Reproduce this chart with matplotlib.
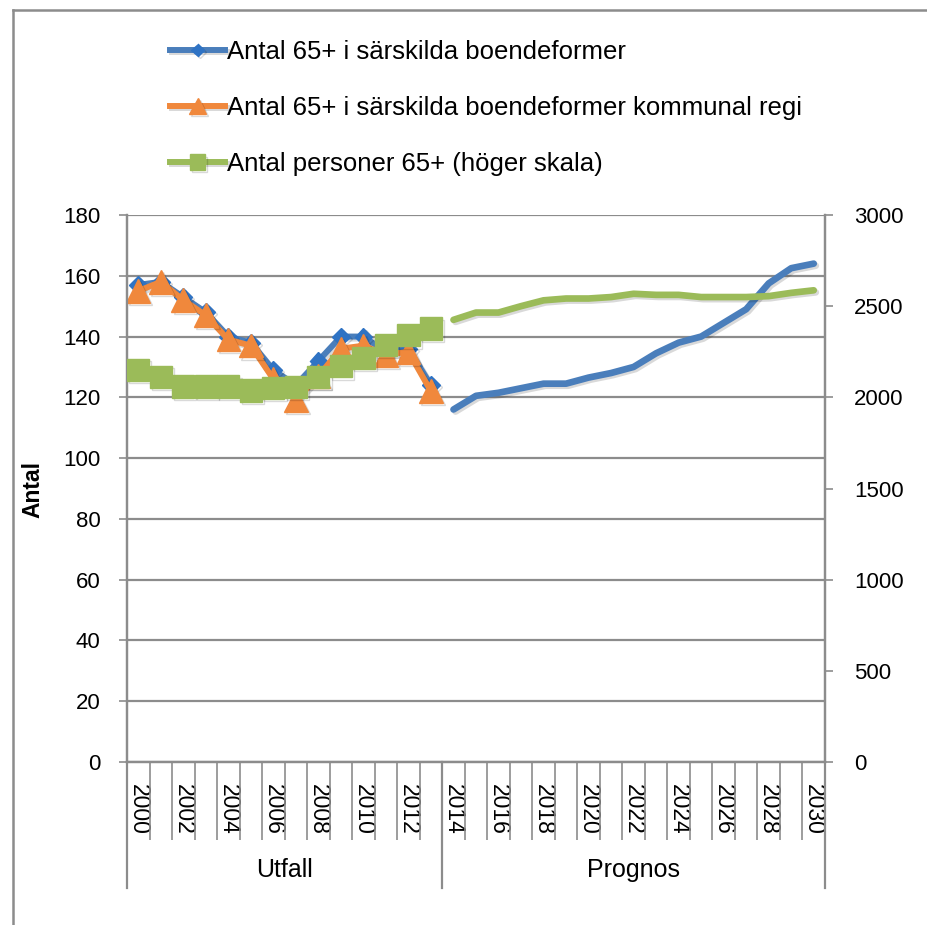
import numpy as np
import matplotlib.pyplot as plt
import matplotlib.patheffects as pe
from matplotlib.lines import Line2D

plt.rcParams['font.family'] = ['Liberation Sans', 'DejaVu Sans']

# Data
years = list(range(2000, 2031))
n_utfall = 14  # 2000-2013 outcome, 2014-2030 forecast

boende_utfall = [157, 158, 153, 148, 140, 138, 129, 124, 132, 140, 140, 135, 136, 124]
kommunal_utfall = [155, 158, 152, 147, 139, 137, 126, 119, 127, 136, 137, 134, 135, 122]
personer_utfall = [2150, 2112, 2059, 2059, 2059, 2037, 2050, 2055, 2113, 2170, 2215, 2287, 2340, 2377]

boende_prognos = [116, 120.5, 121.5, 123, 124.5, 124.5, 126.5, 128, 130, 134.5, 138, 140,
                  144.5, 149, 157.5, 162.5, 164]
personer_prognos = [2425, 2465, 2465, 2500, 2532, 2542, 2542, 2550, 2568, 2562, 2562, 2550,
                    2550, 2550, 2555, 2573, 2587]

labels = ['Antal 65+ i särskilda boendeformer',
          'Antal 65+ i särskilda boendeformer kommunal regi',
          'Antal personer 65+ (höger skala)']

blue = '#4A7EBB'
blue_mk = '#2F73C4'
orange = '#F0883C'
green = '#9BBB59'
grey = '#8C8C8C'

x_utfall = np.arange(n_utfall)
x_prognos = np.arange(n_utfall, len(years))

fig = plt.figure(figsize=(9.28, 9.25), dpi=100)
W, H = 928, 925
ax = fig.add_axes([127 / W, 1 - 762 / H, 698 / W, 547 / H])
ax2 = ax.twinx()

shadow = [pe.SimpleLineShadow(offset=(1.5, -1.5), shadow_color='black', alpha=0.15), pe.Normal()]

h1, = ax.plot(x_utfall, boende_utfall, color=blue, lw=4.3, marker='D', ms=9,
              mfc=blue_mk, mec=blue_mk, path_effects=shadow, zorder=3)
ax.plot(x_prognos, boende_prognos, color=blue, lw=4.8, solid_capstyle='round',
        path_effects=shadow, zorder=3)
h2, = ax.plot(x_utfall, kommunal_utfall, color=orange, lw=4.3, marker='^', ms=17,
              mfc=orange, mec=orange, path_effects=shadow, zorder=4)
h3, = ax2.plot(x_utfall, personer_utfall, color=green, lw=4.3, marker='s', ms=16,
               mfc=green, mec=green, path_effects=shadow, zorder=3)
ax2.plot(x_prognos, personer_prognos, color=green, lw=4.8, solid_capstyle='round',
         path_effects=shadow, zorder=3)

# axes ranges
ax.set_xlim(-0.5, len(years) - 0.5)
ax.set_ylim(0, 180)
ax2.set_ylim(0, 3000)
ax.set_yticks(range(0, 181, 20))
ax2.set_yticks(range(0, 3001, 500))
ax.grid(axis='y', color=grey, lw=1.6)
ax.set_axisbelow(True)

for a in (ax, ax2):
    for s in a.spines.values():
        s.set_color(grey)
        s.set_linewidth(1.6)
    a.spines['top'].set_visible(False)

ax.tick_params(axis='y', length=6, width=1.2, color=grey, pad=13, labelsize=16)
ax2.tick_params(axis='y', length=6, width=1.2, color=grey, pad=15, labelsize=16)

# category axis: year labels every second year, ticks between categories
ax.set_xticks(np.arange(0, len(years), 2))
ax.set_xticklabels([str(y) for y in years[::2]], rotation=270, fontsize=16.5)
ax.tick_params(axis='x', which='major', length=0, pad=16)
ax.set_xticks(np.arange(-0.5, len(years), 1), minor=True)
ax.tick_params(axis='x', which='minor', length=56, width=1.2, color=grey)

xt = ax.get_xaxis_transform()
for xb in (-0.5, n_utfall - 0.5, len(years) - 0.5):
    ax.plot([xb, xb], [0, -126 / 547], transform=xt, color=grey, lw=1.6, clip_on=False)
ax.text((n_utfall - 1) / 2, -108 / 547, 'Utfall', transform=xt, ha='center', va='center',
        fontsize=18)
ax.text((n_utfall + len(years) - 1) / 2, -108 / 547, 'Prognos', transform=xt, ha='center',
        va='center', fontsize=18)

fig.text(33 / W, 1 - 490 / H, 'Antal', rotation=90, ha='center', va='center',
         fontsize=16.5, fontweight='bold')

fig.legend([h1, h2, h3], labels, loc='upper left', bbox_to_anchor=(170 / W, 1 - 40 / H),
           frameon=False, fontsize=18.5, handlelength=2.15, handletextpad=0.05,
           labelspacing=1.25, borderpad=0, borderaxespad=0, markerscale=0.7)

# outer chart border (only left and top edges visible)
fig.add_artist(Line2D([13 / W, 13 / W], [0, 1 - 10 / H], color=grey, lw=1.8))
fig.add_artist(Line2D([13 / W, 1], [1 - 10 / H, 1 - 10 / H], color=grey, lw=1.8))

fig.savefig('out.png', dpi=100)
